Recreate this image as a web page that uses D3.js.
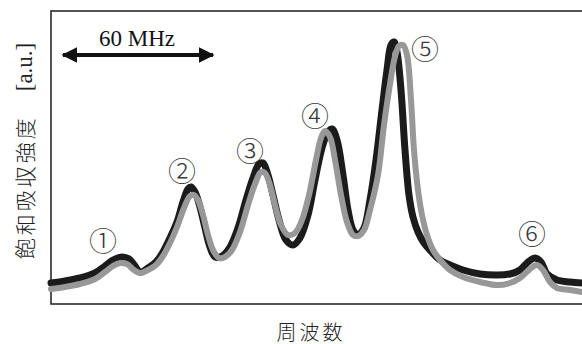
<!DOCTYPE html>
<html>
<head>
<meta charset="utf-8">
<script src="https://cdn.jsdelivr.net/npm/d3@7"></script>
<style>
  html, body { margin: 0; padding: 0; background: #fff; }
  svg { display: block; }
</style>
</head>
<body>
<svg id="chart" width="582" height="344"></svg>
<script>
// frequency (MHz, relative) and saturated absorption intensity (a.u.)
var blackFreq = [0, 5.6, 11.6, 17.6, 21.6, 24.8, 28.4, 31.2, 33.6, 35.6, 38.8, 42.0, 44.8, 47.6, 50.4, 52.8, 54.8, 56.0, 57.6, 59.6,
    61.6, 63.6, 65.6, 68.4, 71.6, 74.8, 78.0, 80.8, 83.2, 84.8, 86.8, 88.8, 91.2, 94.0, 96.8, 99.6, 102.8, 105.6, 108.4, 110.8,
    112.4, 114.4, 116.8, 118.8, 120.8, 122.8, 125.2, 127.6, 130.0, 132.4, 134.4, 136.0, 137.2, 138.4, 140.0, 141.6, 143.2, 144.8, 146.8, 149.2,
    151.6, 155.6, 159.6, 164.8, 171.6, 178.4, 183.6, 187.6, 190.8, 193.6, 196.0, 198.4, 202.4, 207.6, 212.4];
var blackSignal = [0.084, 0.092, 0.104, 0.124, 0.152, 0.176, 0.188, 0.180, 0.152, 0.128, 0.144, 0.168, 0.208, 0.264, 0.328, 0.408, 0.460, 0.468, 0.448, 0.388,
    0.304, 0.228, 0.188, 0.192, 0.228, 0.304, 0.416, 0.504, 0.560, 0.564, 0.516, 0.436, 0.336, 0.256, 0.236, 0.264, 0.356, 0.496, 0.624, 0.688,
    0.700, 0.656, 0.516, 0.376, 0.296, 0.276, 0.304, 0.416, 0.576, 0.776, 0.936, 1.036, 1.048, 1.008, 0.856, 0.616, 0.436, 0.348, 0.288, 0.244,
    0.216, 0.176, 0.156, 0.136, 0.120, 0.116, 0.120, 0.136, 0.168, 0.184, 0.168, 0.120, 0.096, 0.088, 0.084];

var grayFreq = [0, 5.6, 11.6, 17.6, 21.6, 24.8, 27.6, 30.4, 33.2, 35.6, 38.8, 42.0, 44.8, 47.6, 50.4, 53.2, 55.6, 57.2, 58.8, 60.8,
    62.8, 64.8, 67.2, 69.6, 72.4, 75.6, 78.8, 81.6, 84.0, 85.6, 87.6, 89.6, 92.0, 94.8, 97.6, 100.4, 103.2, 106.0, 108.0, 109.6,
    111.6, 113.6, 116.0, 118.4, 120.8, 122.8, 125.2, 127.6, 130.8, 133.2, 135.6, 137.6, 139.2, 140.8, 142.4, 144.0, 145.2, 146.8, 148.4, 150.4,
    152.8, 155.6, 159.6, 164.8, 171.6, 178.4, 183.6, 187.6, 191.6, 194.4, 196.8, 199.6, 202.4, 207.6, 212.4];
var graySignal = [0.060, 0.068, 0.080, 0.100, 0.128, 0.152, 0.164, 0.160, 0.136, 0.124, 0.136, 0.156, 0.192, 0.244, 0.308, 0.384, 0.432, 0.436, 0.416, 0.356,
    0.276, 0.216, 0.184, 0.188, 0.216, 0.288, 0.396, 0.480, 0.528, 0.524, 0.476, 0.396, 0.316, 0.276, 0.284, 0.336, 0.436, 0.576, 0.664, 0.692,
    0.668, 0.576, 0.436, 0.328, 0.276, 0.272, 0.296, 0.376, 0.516, 0.716, 0.880, 0.990, 1.032, 1.036, 0.996, 0.816, 0.616, 0.456, 0.356, 0.276,
    0.216, 0.176, 0.136, 0.108, 0.088, 0.076, 0.084, 0.104, 0.140, 0.156, 0.136, 0.088, 0.064, 0.056, 0.048];

// peak labels: text, frequency, intensity of label centre
var peakNames = ["①", "②", "③", "④", "⑤", "⑥"];
var peakFreq = [20.8, 52.4, 79.6, 105.6, 149.6, 192.4];
var peakLevel = [0.256, 0.536, 0.616, 0.756, 1.024, 0.284];

// 60 MHz scale bar
var barStart = 4.8, barSpan = 60, barLevel = 0.996;

var width = 582, height = 344;
var margin = {top: 11, right: -4, bottom: 40, left: 51};

var x = d3.scaleLinear()
    .domain([0, 214])
    .range([margin.left, width - margin.right]);
var y = d3.scaleLinear()
    .domain([0, 1.172])
    .range([height - margin.bottom, margin.top]);

var svg = d3.select("#chart");

var defs = svg.append("defs");
defs.append("marker")
    .attr("id", "head")
    .attr("viewBox", "0 0 10 10")
    .attr("refX", 9).attr("refY", 5)
    .attr("markerWidth", 4).attr("markerHeight", 4)
    .attr("markerUnits", "strokeWidth")
    .attr("orient", "auto-start-reverse")
    .append("path")
    .attr("d", "M0,0L10,5L0,10z")
    .attr("fill", "#111");

// frame (right side lies outside the picture)
svg.append("rect")
    .attr("x", x(0)).attr("y", y(1.172))
    .attr("width", x(214) - x(0) + 10)
    .attr("height", y(0) - y(1.172))
    .attr("fill", "none")
    .attr("stroke", "#2a2a2a")
    .attr("stroke-width", 1.6);

var line = d3.line()
    .x(d => x(d[0]))
    .y(d => y(d[1]))
    .curve(d3.curveCatmullRom.alpha(0.5));

var plot = svg.append("g");

plot.append("path")
    .datum(blackFreq.map((f, i) => [f, blackSignal[i]]))
    .attr("d", line)
    .attr("fill", "none")
    .attr("stroke", "#1b1b1b")
    .attr("stroke-width", 7)
    .attr("stroke-linejoin", "round")
    .attr("stroke-linecap", "round");

plot.append("path")
    .datum(grayFreq.map((f, i) => [f, graySignal[i]]))
    .attr("d", line)
    .attr("fill", "none")
    .attr("stroke", "#989898")
    .attr("stroke-width", 6)
    .attr("stroke-linejoin", "round")
    .attr("stroke-linecap", "round");

// peak numbers
svg.append("g")
    .selectAll("text")
    .data(peakNames)
    .join("text")
    .attr("x", (d, i) => x(peakFreq[i]))
    .attr("y", (d, i) => y(peakLevel[i]))
    .attr("text-anchor", "middle")
    .attr("dominant-baseline", "central")
    .attr("font-family", "'Noto Sans CJK JP', 'DejaVu Sans', sans-serif")
    .attr("font-size", 28)
    .attr("font-weight", 300)
    .attr("fill", "#3a3a3a")
    .text(d => d);

// scale bar
svg.append("line")
    .attr("x1", x(barStart)).attr("x2", x(barStart + barSpan))
    .attr("y1", y(barLevel)).attr("y2", y(barLevel))
    .attr("stroke", "#111")
    .attr("stroke-width", 4)
    .attr("marker-start", "url(#head)")
    .attr("marker-end", "url(#head)");

svg.append("text")
    .attr("x", x(barStart + barSpan / 2) - 1)
    .attr("y", y(barLevel) - 9)
    .attr("text-anchor", "middle")
    .attr("font-family", "'Liberation Serif', serif")
    .attr("font-size", 23)
    .attr("fill", "#111")
    .text("60 MHz");

// axis titles
var ylab = svg.append("text")
    .attr("transform", "translate(24,151) rotate(-90)")
    .attr("text-anchor", "middle")
    .attr("dominant-baseline", "central")
    .attr("fill", "#222");
ylab.append("tspan")
    .attr("font-family", "'Noto Sans CJK JP', sans-serif")
    .attr("font-size", 21)
    .attr("font-weight", 300)
    .attr("letter-spacing", 3)
    .text("飽和吸収強度　");
ylab.append("tspan")
    .attr("font-family", "'Liberation Serif', serif")
    .attr("font-size", 23)
    .text("[a.u.]");

svg.append("text")
    .attr("x", 311)
    .attr("y", 331)
    .attr("text-anchor", "middle")
    .attr("dominant-baseline", "central")
    .attr("font-family", "'Noto Sans CJK JP', sans-serif")
    .attr("font-size", 20)
    .attr("font-weight", 300)
    .attr("letter-spacing", 3)
    .attr("fill", "#222")
    .text("周波数");
</script>
</body>
</html>
